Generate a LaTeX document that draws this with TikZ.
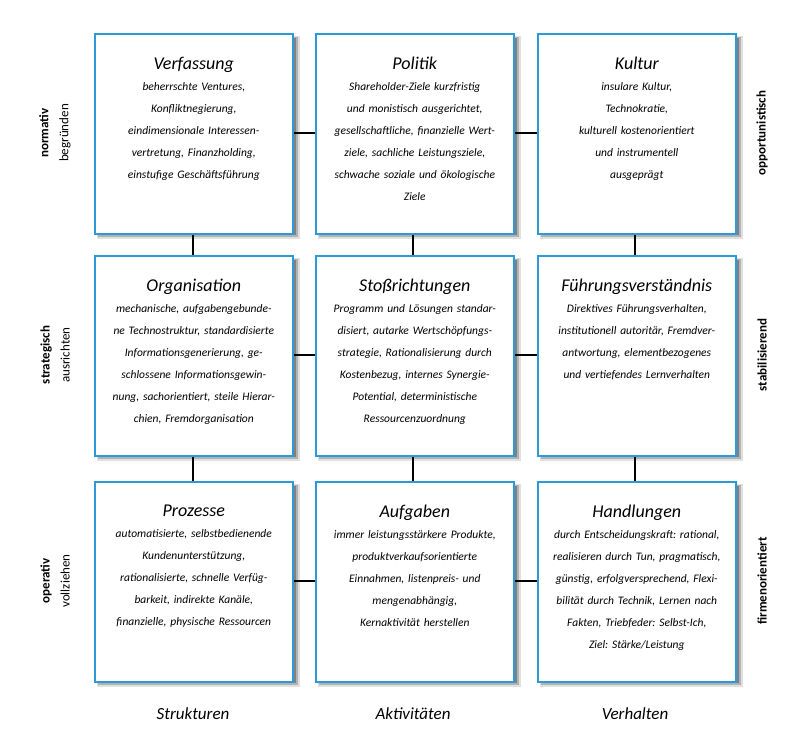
\documentclass[tikz,border=0pt]{standalone}
\usepackage{fontspec}
\setmainfont{Carlito}
\frenchspacing
\definecolor{bblue}{RGB}{42,155,216}
\begin{document}
\begin{tikzpicture}[x=1pt,y=-1pt,
  box/.style={draw=bblue,line width=1.6pt,fill=white,minimum width=198pt,minimum height=200pt,anchor=north west},
  txt/.style={anchor=north,text width=196pt,align=center,font=\fontsize{11.5}{22}\selectfont\itshape,inner sep=0pt},
  side/.style={rotate=90,align=center,font=\fontsize{13}{20}\selectfont},
  foot/.style={font=\fontsize{17}{20}\selectfont\itshape},
  con/.style={line width=1.2pt}]
\useasboundingbox (0,0) rectangle (800,745);
% shadows
\foreach \xx/\yy in {94/33,315/33,537/33,94/255,315/255,537/255,94/481,315/481,537/481}{
  \fill[black!12] (\xx+3,\yy+3) rectangle ++(203,203);
  \fill[black!30] (\xx+4,\yy+4) rectangle ++(200,200);
  \fill[black!50] (\xx+5,\yy+5) rectangle ++(197,197);}
% connectors
\foreach \yy in {133,355,581}{
  \draw[con] (292,\yy) -- (316,\yy);
  \draw[con] (512,\yy) -- (538,\yy);}
\foreach \xx in {193,413,635}{
  \draw[con] (\xx,233) -- (\xx,256);
  \draw[con] (\xx,455) -- (\xx,482);}
% boxes
\node[box] (b11) at (94,33) {};
\node[box] (b12) at (315,33) {};
\node[box] (b13) at (537,33) {};
\node[box] (b21) at (94,255) {};
\node[box] (b22) at (315,255) {};
\node[box] (b23) at (537,255) {};
\node[box] (b31) at (94,481) {};
\node[box] (b32) at (315,481) {};
\node[box] (b33) at (537,481) {};
\newcommand{\ttl}[1]{{\fontsize{18}{22}\selectfont #1}\\[-1pt]}
\tikzset{tt/.style={txt,yshift=-24pt}}
\node[tt] (t11) at (b11.north) {\ttl{Verfassung}beherrschte Ventures,\\Konfliktnegierung,\\eindimensionale Interessen-\\vertretung, Finanzholding,\\einstufige Geschäftsführung};
\node[tt] (t12) at (b12.north) {\ttl{Politik}Shareholder-Ziele kurzfristig\\und monistisch ausgerichtet,\\gesellschaftliche, finanzielle Wert-\\ziele, sachliche Leistungsziele,\\schwache soziale und ökologische\\Ziele};
\node[tt] (t13) at (b13.north) {\ttl{Kultur}insulare Kultur,\\Technokratie,\\kulturell kostenorientiert\\und instrumentell\\ausgeprägt};
\node[tt] (t21) at (b21.north) {\ttl{Organisation}mechanische, aufgabengebunde-\\ne Technostruktur, standardisierte\\Informationsgenerierung, ge-\\schlossene Informationsgewin-\\nung, sachorientiert, steile Hierar-\\chien, Fremdorganisation};
\node[tt] (t22) at (b22.north) {\ttl{Stoßrichtungen}Programm und Lösungen standar-\\disiert, autarke Wertschöpfungs-\\strategie, Rationalisierung durch\\Kostenbezug, internes Synergie-\\Potential, deterministische\\Ressourcenzuordnung};
\node[tt] (t23) at (b23.north) {\ttl{Führungsverständnis}Direktives Führungsverhalten,\\institutionell autoritär, Fremdver-\\antwortung, elementbezogenes\\und vertiefendes Lernverhalten};
\node[tt] (t31) at (b31.north) {\ttl{Prozesse}automatisierte, selbstbedienende\\Kundenunterstützung,\\rationalisierte, schnelle Verfüg-\\barkeit, indirekte Kanäle,\\finanzielle, physische Ressourcen};
\node[tt] (t32) at (b32.north) {\ttl{Aufgaben}immer leistungsstärkere Produkte,\\produktverkaufsorientierte\\Einnahmen, listenpreis- und\\mengenabhängig,\\Kernaktivität herstellen};
\node[tt] (t33) at (b33.north) {\ttl{Handlungen}durch Entscheidungskraft: rational,\\realisieren durch Tun, pragmatisch,\\günstig, erfolgversprechend, Flexi-\\bilität durch Technik, Lernen nach\\Fakten, Triebfeder: Selbst-Ich,\\Ziel: Stärke/Leistung};
% side labels
\node[side] (l1) at (55,133) {\textbf{normativ}\\begründen};
\node[side] (l2) at (55,355) {\textbf{strategisch}\\ausrichten};
\node[side] (l3) at (55,581) {\textbf{operativ}\\vollziehen};
\node[side] (r1) at (762,133) {\textbf{opportunistisch}};
\node[side] (r2) at (762,355) {\textbf{stabilisierend}};
\node[side] (r3) at (762,581) {\textbf{firmenorientiert}};
\node[foot] (f1) at (193,714) {Strukturen};
\node[foot] (f2) at (413,714) {Aktivitäten};
\node[foot] (f3) at (635,714) {Verhalten};
\end{tikzpicture}
\end{document}
